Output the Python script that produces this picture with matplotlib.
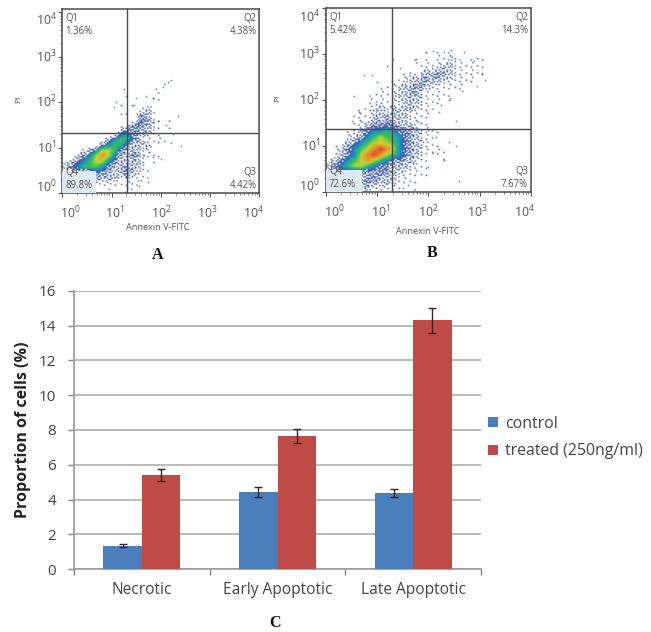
import numpy as np
import matplotlib
matplotlib.use("Agg")
import matplotlib.pyplot as plt
from matplotlib.colors import LinearSegmentedColormap
from matplotlib.patches import Rectangle

W, H = 651, 632
categories = ["Necrotic", "Early Apoptotic", "Late Apoptotic"]
control = [1.36, 4.42, 4.38]
treated = [5.42, 7.67, 14.3]
control_err = [0.08, 0.28, 0.25]
treated_err = [0.33, 0.40, 0.72]

# density levels read by eye, bins of 1/8 decade, rows from top to bottom
density_a = [
 "", "000000000000000001", "0000000000000000100", "00000000000000001", "0000000000000001",
 "00000000000100110", "000000000101011", "000000000010122", "00000000001033101",
 "000000000001332101", "000000000123322101", "0000000003432211", "00000002455321111",
 "0000003455322211101", "000124665322211", "0023467642232111", "1234566432222011",
 "23455543223221", "00000332223211", "00000222212111", "00000111101110", "00000001001",
]
density_b = [
 "", "000000000000000101010010", "000000000000010101111101", "0000000000000111111211111",
 "0000001000001011122211111", "0000001000001112232211111", "000000010011122322211111",
 "0000000011112232211111", "0000000111122321111011", "00000011111222211111",
 "00000011111122211101", "00000111212222111", "00001112222221111", "000011122322211101",
 "00001123333222111", "000112344543322111", "0001234565543221101", "00123456665432211",
 "0123456787643221111", "0123467876543221111", "12345676543322110 1", "2345665433222111",
 "2333332333221111", "0000023322211101", "00000232221111", "00000121111101001",
]
# individual sparse events (log10 of the channel values)
sparse_a_x = [1.05, 1.1, 1.2, 1.25, 1.3, 1.45, 1.5, 1.7, 1.85, 1.9, 2.05, 2.15, 2.2, 2.35, 2.4, 2.2, 2.25, 2.1, 1.95, 1.8, 1.6, 1.75, 1.55, 1.4, 1.2, 0.95, 1.05, 1.65, 1.85, 2.0, 1.5, 1.7, 1.25, 1.05, 1.45]
sparse_a_y = [1.9, 2.0, 1.75, 2.3, 2.15, 1.95, 2.1, 2.15, 2.1, 2.3, 2.35, 2.45, 2.5, 1.7, 1.05, 1.1, 1.3, 1.5, 1.6, 1.35, 0.3, 0.25, 0.15, 0.1, 0.2, 0.1, 0.35, 0.85, 0.8, 0.75, 0.65, 1.0, 0.5, 0.6, 0.4]
sparse_b_x = [0.75, 0.9, 0.55, 0.65, 0.5, 1.0, 1.2, 1.3, 1.45, 1.75, 1.95, 2.1, 2.3, 2.45, 2.7, 2.9, 3.05, 3.1, 2.95, 2.65, 2.4, 2.25, 2.55, 2.2, 2.0, 2.4, 2.1, 2.3, 2.6, 2.55, 2.15, 2.0, 1.85, 1.7, 1.6, 1.5, 1.35, 1.55, 1.9]
sparse_b_y = [2.55, 2.55, 2.1, 1.75, 1.55, 2.4, 2.75, 2.9, 2.7, 2.9, 3.05, 3.08, 3.05, 3.1, 3.05, 2.85, 2.6, 2.45, 2.3, 2.2, 2.0, 1.9, 1.55, 1.75, 1.35, 1.1, 0.85, 0.7, 0.25, 1.0, 1.2, 0.55, 0.4, 0.65, 0.15, 0.1, 0.2, 0.9, 1.1]

panels = [
    dict(box=(62.3, 9.3, 259.3, 193.3), ymax=4.05, gate=(0.68, 0.48), quad=(1.32, 1.32), grid=density_a,
         sx=sparse_a_x, sy=sparse_a_y, q=["Q1\n1.36%", "Q2\n4.38%", "Q3\n4.42%", "Q4\n89.8%"],
         xlab=(157.6, 228), ylab=(19, 99), tag=("A", 158, 255)),
    dict(box=(326, 8.3, 530.7, 192.3), ymax=4.0, gate=(0.7, 0.49), quad=(1.28, 1.37), grid=density_b,
         sx=sparse_b_x, sy=sparse_b_y, q=["Q1\n5.42%", "Q2\n14.3%", "Q3\n7.67%", "Q4\n72.6%"],
         xlab=(428, 232), ylab=(278, 98), tag=("B", 432, 253)),
]

# halftone tile used to show the low density levels as speckle
HALFTONE = np.array([
    [0.62, 0.10, 0.85, 0.33, 0.71, 0.19, 0.94],
    [0.27, 0.78, 0.42, 0.05, 0.55, 0.88, 0.38],
    [0.91, 0.15, 0.66, 0.97, 0.24, 0.47, 0.02],
    [0.49, 0.58, 0.30, 0.12, 0.81, 0.69, 0.74],
    [0.07, 0.83, 0.52, 0.76, 0.36, 0.16, 0.44],
])
UP = 4


def speckled(grid):
    n_r, n_c = grid.shape
    yi = (np.arange(n_r * UP) + 0.5) / UP - 0.5
    xi = (np.arange(n_c * UP) + 0.5) / UP - 0.5
    rows = np.array([np.interp(xi, np.arange(n_c), r) for r in grid])
    fine = np.array([np.interp(yi, np.arange(n_r), c) for c in rows.T]).T
    tile = np.tile(HALFTONE, (n_r * UP // 5 + 1, n_c * UP // 7 + 1))[:n_r * UP, :n_c * UP]
    low = fine < 3.5
    out = fine.copy()
    out[low] = np.where((fine[low] / 3.5) ** 1.5 > tile[low] * 1.1 + 0.05, 2.7, 0.0)
    return out


plt.rcParams["font.family"] = ["Open Sans", "DejaVu Sans"]
fig = plt.figure(figsize=(W / 100, H / 100), dpi=100, facecolor="white")


def fx(px):
    return px / W


def fy(py):
    return 1 - py / H


def make_axes(x0, y0, x1, y1):
    return fig.add_axes([fx(x0), fy(y1), (x1 - x0) / W, (y1 - y0) / H])


cmap = LinearSegmentedColormap.from_list("flow", [
    (0 / 8, "#ffffff"), (1 / 8, "#c6d0e4"), (2 / 8, "#7c90c2"), (3 / 8, "#2f4d9e"),
    (4 / 8, "#1e8fc9"), (5 / 8, "#2fc05e"), (6 / 8, "#c5d232"), (7 / 8, "#e89030"), (8 / 8, "#df4020")])
dark = "#4a4a4a"
txt = "#555555"
minor = np.log10(np.arange(2, 10))

for p in panels:
    ax = make_axes(*p["box"])
    rows = [r.replace(" ", "0").ljust(26, "0") for r in p["grid"]]
    grid = np.array([[int(c) for c in r] for r in rows], float)
    n_r, n_c = grid.shape
    ax.imshow(speckled(grid), extent=(0, n_c / 8, 0, n_r / 8), cmap=cmap, vmin=0, vmax=8,
              interpolation="bilinear", aspect="auto", zorder=1)
    ax.scatter(p["sx"], p["sy"], s=1.5, color="#46598f", lw=0, alpha=0.75, zorder=2)
    gx, gy = p["gate"]
    ax.add_patch(Rectangle((0, 0), gx, gy, color="#dfe9f3", lw=0, zorder=3))
    ax.axvline(p["quad"][0], color=dark, lw=1, zorder=4)
    ax.axhline(p["quad"][1], color=dark, lw=1, zorder=4)
    ax.set_xlim(0, 4)
    ax.set_ylim(0, p["ymax"])
    ax.set_xticks(range(5))
    ax.set_yticks(range(5))
    ax.set_xticks([d + m for d in range(4) for m in minor], minor=True)
    ax.set_yticks([d + m for d in range(4) for m in minor if d + m < p["ymax"]], minor=True)
    ax.tick_params(axis="both", which="major", length=3, width=0.7, color=dark, labelbottom=False, labelleft=False)
    ax.tick_params(axis="both", which="minor", length=1.6, width=0.5, color=dark)
    for s in ax.spines.values():
        s.set_color(dark)
        s.set_linewidth(1.1)
    for i in range(5):
        lx = [0.17, 1.07, 2.0, 2.95, 3.88][i]
        ax.text(lx, -0.24, rf"$\mathregular{{10^{{{i}}}}}$", ha="center", va="top", fontsize=8.8, color=txt)
        ly = [0.14, 1.0, 2.0, 3.0, 3.82][i]
        ax.text(-0.12, ly, rf"$\mathregular{{10^{{{i}}}}}$", ha="right", va="center", fontsize=8.8, color=txt)
    q = p["q"]
    opts = dict(fontsize=6.9, color=txt, linespacing=1.2, zorder=5)
    ax.text(0.06, p["ymax"] - 0.08, q[0], ha="left", va="top", **opts)
    ax.text(3.95, p["ymax"] - 0.08, q[1], ha="right", va="top", **opts)
    ax.text(3.95, 0.05, q[2], ha="right", va="bottom", **opts)
    ax.text(0.06, 0.05, q[3], ha="left", va="bottom", **opts)
    fig.text(fx(p["xlab"][0]), fy(p["xlab"][1]), "Annexin V-FITC", ha="center", va="center", fontsize=6.6, color=txt)
    fig.text(fx(p["ylab"][0]), fy(p["ylab"][1]), "PI", ha="center", va="center", rotation=90, fontsize=6, color=txt)
    fig.text(fx(p["tag"][1]), fy(p["tag"][2]), p["tag"][0], ha="center", va="center", fontsize=11.5,
             family="Liberation Serif", weight="bold", color="#111111")

# bar chart
ax = make_axes(74, 290.7, 481, 569.3)
x = np.arange(len(categories))
bw = 0.285
ebar = dict(ecolor="#3a2020", elinewidth=1, capsize=3, capthick=1)
b1 = ax.bar(x - bw / 2, control, bw, yerr=control_err, color="#4a7ebb", error_kw=ebar, zorder=3, label="control")
b2 = ax.bar(x + bw / 2, treated, bw, yerr=treated_err, color="#be4b48", error_kw=ebar, zorder=3, label="treated (250ng/ml)")
ax.set_xlim(-0.5, 2.5)
ax.set_ylim(0, 16)
ax.set_yticks(range(0, 17, 2))
ax.set_xticks([-0.5, 0.5, 1.5, 2.5])
ax.set_xticklabels([])
ax.set_xticks(x, categories, minor=True)
ax.yaxis.grid(True, color="#b4b4b4", lw=1.3, zorder=0)
ax.set_axisbelow(True)
for s in ("top", "right"):
    ax.spines[s].set_visible(False)
for s in ("left", "bottom"):
    ax.spines[s].set_color("#9a9a9a")
    ax.spines[s].set_linewidth(1.2)
ax.tick_params(axis="both", which="major", length=4, width=1, color="#808080", labelsize=11, labelcolor="#444444")
ax.tick_params(axis="y", which="major", pad=9)
ax.tick_params(axis="x", which="minor", length=0, pad=9, labelsize=11.2, labelcolor="#444444")
fig.text(fx(23), fy(430), "Proportion of cells (%)", rotation=90, ha="center", va="center",
         fontsize=11.5, weight="bold", color="#222222")
fig.legend(handles=[b1, b2], loc="upper left", bbox_to_anchor=(fx(488), fy(416)), frameon=False, fontsize=11.4,
           handlelength=0.6, handleheight=0.6, handletextpad=0.45, labelspacing=0.72, borderpad=0.0,
           labelcolor="#444444", borderaxespad=0)
fig.text(fx(275), fy(623), "C", ha="center", va="center", fontsize=11.5, family="Liberation Serif",
         weight="bold", color="#111111")
fig.savefig("out.png", dpi=100)
